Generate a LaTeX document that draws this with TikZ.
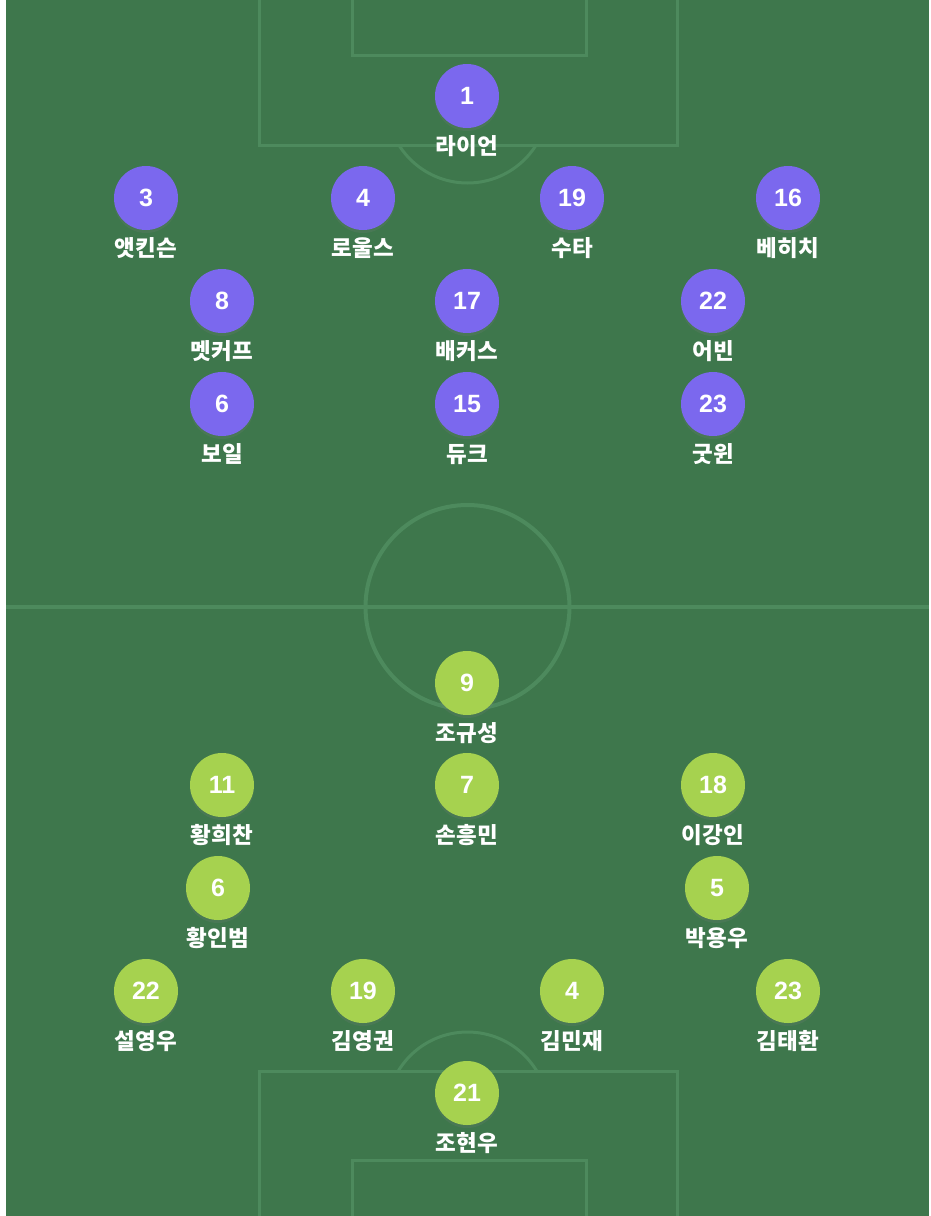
\documentclass[tikz,border=0pt]{standalone}
\usepackage{fontspec}
\setmainfont{Noto Sans CJK KR}
\newfontfamily\numfont{Liberation Sans}
\usetikzlibrary{shadows}
\definecolor{pitch}{HTML}{3E774C}
\definecolor{chalk}{HTML}{4D8A5D}
\definecolor{awaycol}{HTML}{7B68EE}
\definecolor{homecol}{HTML}{A6D24F}
\tikzset{
  player/.style={circle,minimum size=64pt,inner sep=0pt,text=white,
    font=\numfont\bfseries\fontsize{25}{25}\selectfont,
    drop shadow={opacity=0.18,shadow xshift=0pt,shadow yshift=-3pt}},
  away/.style={player,fill=awaycol},
  home/.style={player,fill=homecol},
  pname/.style={anchor=base,text=white,inner sep=0pt,font=\bfseries\fontsize{22.5}{22.5}\selectfont},
  chalkline/.style={draw=chalk,line width=3pt},
}
\begin{document}
\begin{tikzpicture}[x=1pt,y=-1pt]
    \useasboundingbox (0,0) rectangle (930,1216);
    \fill[white] (0,0) rectangle (930,1216);
    \fill[pitch] (6,0) rectangle (929,1216);
    % pitch markings
    \draw[chalkline,line width=4pt] (6,607) -- (929,607);
    \draw[chalkline,line width=4pt] (467.5,607) circle (102pt);
    \draw[chalkline] (259,0) |- (677,145) -- (677,0);
    \draw[chalkline] (352,0) |- (586,55) -- (586,0);
    \draw[chalkline] (259,1216) |- (677,1071) -- (677,1216);
    \draw[chalkline] (352,1216) |- (586,1160) -- (586,1216);
    \begin{scope}
        \clip (6,146) rectangle (929,600);
        \draw[chalkline] (467.5,102) circle (81pt);
    \end{scope}
    \begin{scope}
        \clip (6,614) rectangle (929,1070);
        \draw[chalkline] (467.5,1113) circle (81pt);
    \end{scope}
    % away side
    \foreach \n/\x/\y/\who in {1/467/96/라이언,
        3/146/198/앳킨슨, 4/363/198/로울스, 19/572/198/수타, 16/788/198/베히치,
        8/222/301/멧커프, 17/467/301/배커스, 22/713/301/어빈,
        6/222/404/보일, 15/467/404/듀크, 23/713/404/굿윈}{
        \node[away] (away-\n) at (\x,\y) {\n};
        \node[pname] (away-\n-name) at (\x,\y+58) {\who};
    }
    % home side
    \foreach \n/\x/\y/\who in {9/467/683/조규성,
        11/222/785/황희찬, 7/467/785/손흥민, 18/713/785/이강인,
        6/218/888/황인범, 5/717/888/박용우,
        22/146/991/설영우, 19/363/991/김영권, 4/572/991/김민재, 23/788/991/김태환,
        21/467/1093/조현우}{
        \node[home] (home-\n) at (\x,\y) {\n};
        \node[pname] (home-\n-name) at (\x,\y+58) {\who};
    }
\end{tikzpicture}
\end{document}
